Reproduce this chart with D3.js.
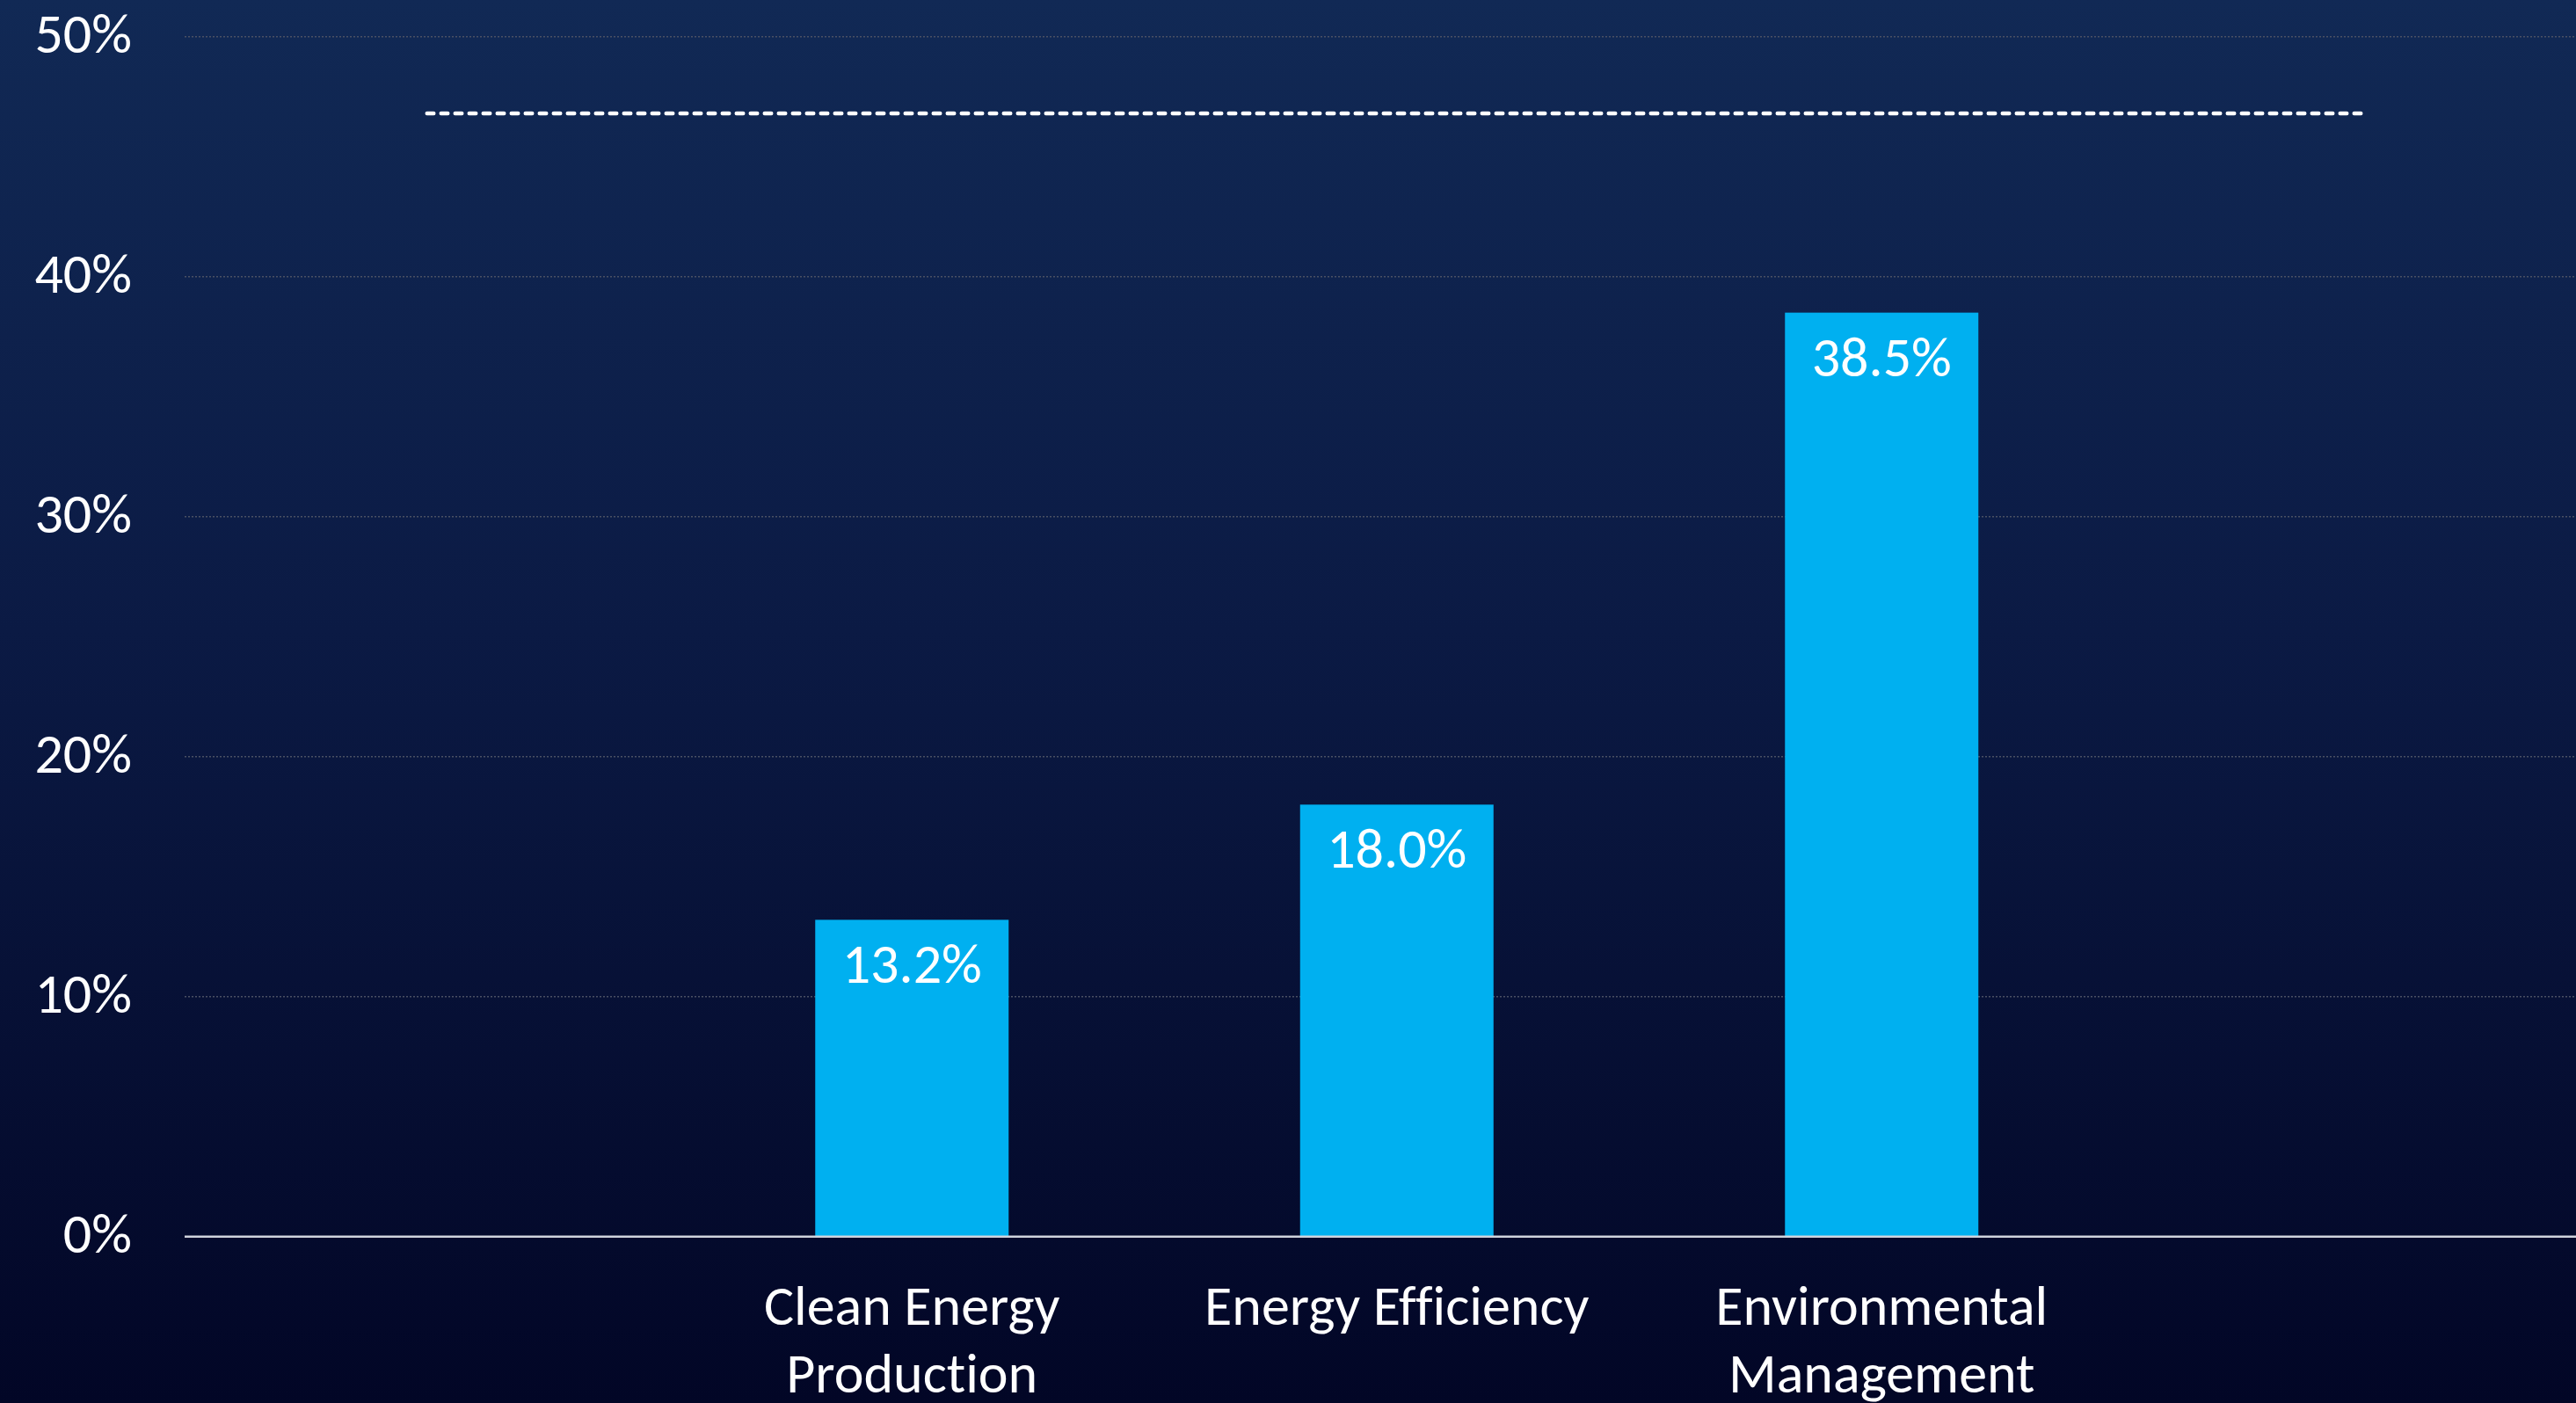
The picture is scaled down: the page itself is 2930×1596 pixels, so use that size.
<!DOCTYPE html>
<html>
<head>
<meta charset="utf-8">
<script src="https://cdn.jsdelivr.net/npm/d3@7"></script>
<style>
  html, body { margin: 0; padding: 0; background: #030826; }
  svg { display: block; }
  text { font-family: Carlito, Calibri, Lato, "Open Sans", sans-serif; fill: #ffffff;
         font-variant-ligatures: none; font-feature-settings: "liga" 0, "clig" 0; }
</style>
</head>
<body>
<svg id="chart" width="2930" height="1596"></svg>
<script>
// Category slots: empty slots at both ends keep the bars centred in the plot
const slots = ["", "Clean Energy Production", "Energy Efficiency", "Environmental Management", " "];
const categories = ["Clean Energy Production", "Energy Efficiency", "Environmental Management"];
const categoryLines = [["Clean Energy", "Production"], ["Energy Efficiency"], ["Environmental", "Management"]];
const shares = [13.2, 18.0, 38.5];          // percent
const benchmark = 46.8;                      // percent, dashed reference line
const yTicks = [0, 10, 20, 30, 40, 50];

const W = 2930, H = 1596;
const svg = d3.select("#chart");

// Background gradient
const defs = svg.append("defs");
const grad = defs.append("linearGradient").attr("id", "bg").attr("x1", 0).attr("y1", 0).attr("x2", 0).attr("y2", 1);
grad.append("stop").attr("offset", "0%").attr("stop-color", "#112955");
grad.append("stop").attr("offset", "45%").attr("stop-color", "#0b1a44");
grad.append("stop").attr("offset", "100%").attr("stop-color", "#020626");
svg.append("rect").attr("width", W).attr("height", H).attr("fill", "url(#bg)");

const plotLeft = 210;
const x = d3.scaleBand().domain(slots).range([plotLeft, plotLeft + 551.5 * slots.length]).paddingInner(0).paddingOuter(0);
const y = d3.scaleLinear().domain([0, 50]).range([1406.7, 41.7]);
const barW = 220;

// Gridlines
svg.append("g")
  .selectAll("line")
  .data(yTicks.filter(d => d > 0))
  .join("line")
  .attr("x1", plotLeft).attr("x2", W)
  .attr("y1", d => y(d)).attr("y2", d => y(d))
  .attr("stroke", "#4a5063")
  .attr("stroke-width", 1.6)
  .attr("stroke-dasharray", "2,2");

// Y axis labels
const yAxis = d3.axisLeft(y).tickValues(yTicks).tickFormat(d => d + "%").tickSize(0).tickPadding(0);
const gy = svg.append("g").attr("transform", "translate(150,0)").call(yAxis);
gy.select(".domain").remove();
gy.selectAll("text")
  .attr("font-size", 64)
  .attr("dy", "0.28em")
  .attr("fill", "#ffffff")
  .style("font-family", "Carlito, Calibri, Lato, 'Open Sans', sans-serif");

// Bars
const cx = c => x(c) + x.bandwidth() / 2;
svg.append("g")
  .selectAll("rect")
  .data(categories)
  .join("rect")
  .attr("x", c => cx(c) - barW / 2)
  .attr("width", barW)
  .attr("y", (c, i) => y(shares[i]))
  .attr("height", (c, i) => y(0) - y(shares[i]))
  .attr("fill", "#00b0f0");

// Value labels inside the bars
svg.append("g")
  .selectAll("text")
  .data(categories)
  .join("text")
  .attr("x", c => cx(c))
  .attr("y", (c, i) => y(shares[i]) + 72)
  .attr("text-anchor", "middle")
  .attr("font-size", 64)
  .text((c, i) => shares[i].toFixed(1) + "%");

// Zero baseline
svg.append("line")
  .attr("x1", plotLeft).attr("x2", W)
  .attr("y1", y(0)).attr("y2", y(0))
  .attr("stroke", "#d0d3dc")
  .attr("stroke-width", 2.5);

// Dashed reference line across all slots
const line = d3.line().x(d => cx(d)).y(() => y(benchmark));
svg.append("path")
  .datum([slots[0], slots[slots.length - 1]])
  .attr("d", line)
  .attr("fill", "none")
  .attr("stroke", "#ffffff")
  .attr("stroke-width", 4.5)
  .attr("stroke-linecap", "round")
  .attr("stroke-dasharray", "7.5,8.5");

// Category labels
const cat = svg.append("g")
  .selectAll("text")
  .data(categories)
  .join("text")
  .attr("x", c => cx(c))
  .attr("y", 1506.7)
  .attr("text-anchor", "middle")
  .attr("font-size", 64);
cat.selectAll("tspan")
  .data((c, i) => categoryLines[i].map(t => ({ t, c })))
  .join("tspan")
  .attr("x", d => cx(d.c))
  .attr("dy", (d, j) => j === 0 ? 0 : 77.3)
  .text(d => d.t);
</script>
</body>
</html>
